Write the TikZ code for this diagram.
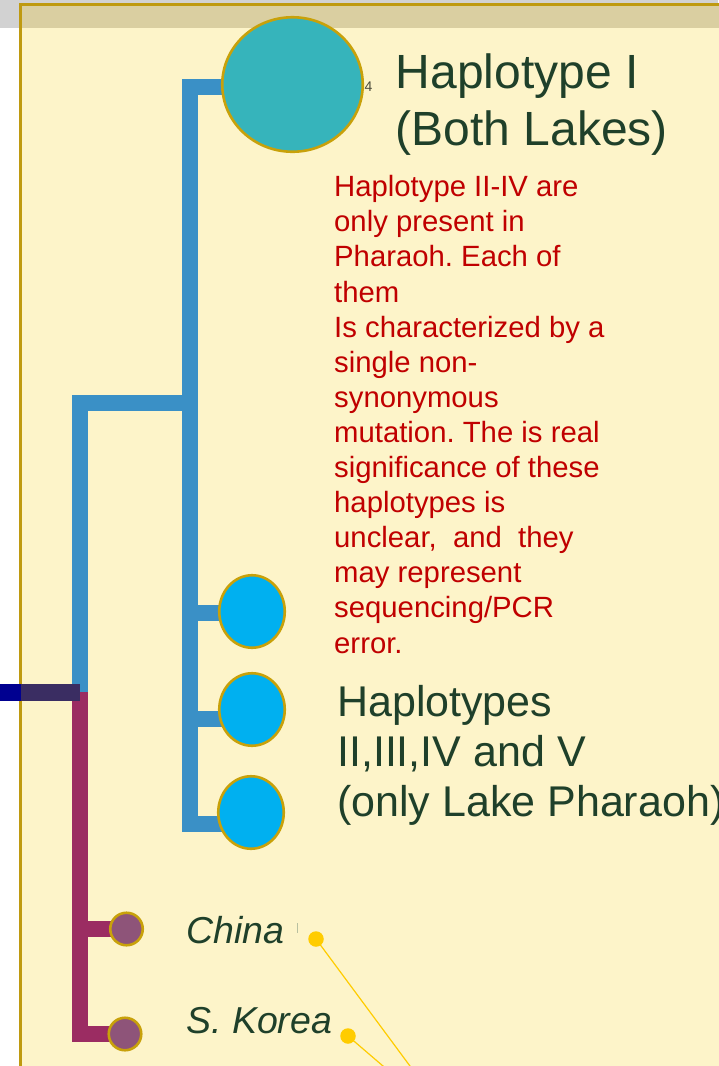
\documentclass[tikz,border=0pt]{standalone}
\usepackage{fontspec}
\setmainfont{Liberation Sans}
\usetikzlibrary{shapes.geometric,backgrounds}
\frenchspacing
\definecolor{gray1}{HTML}{D2D2D2}
\definecolor{cream}{HTML}{FDF4C9}
\definecolor{tan1}{HTML}{DACFA1}
\definecolor{framegold}{HTML}{BF9A10}
\definecolor{circgold}{HTML}{C8A10A}
\definecolor{treeblue}{HTML}{3A90C6}
\definecolor{teal1}{HTML}{36B4BB}
\definecolor{cyan1}{HTML}{00B0F0}
\definecolor{magenta1}{HTML}{9B2C62}
\definecolor{purp1}{HTML}{8E5479}
\definecolor{dkgreen}{HTML}{1F402A}
\definecolor{redtxt}{HTML}{C00000}
\definecolor{dotyellow}{HTML}{FFCC00}
\definecolor{navy1}{HTML}{000090}
\definecolor{rootdark}{HTML}{3A2D62}
\definecolor{fourgray}{HTML}{4A4A3A}
\definecolor{tickgray}{HTML}{B8C0A0}
\begin{document}
\frenchspacing
\begin{tikzpicture}[x=1pt,y=-1pt,
  frameline/.style={draw=framegold,line width=2.7pt},
  clade/.style={line width=16pt,line join=miter,line cap=butt},
  bigleaf/.style={ellipse,inner sep=0pt,draw=circgold,line width=2.6pt,fill=teal1,minimum width=140.5pt,minimum height=134.5pt},
  midleaf/.style={ellipse,inner sep=0pt,draw=circgold,line width=2.6pt,fill=cyan1,minimum width=65.5pt,minimum height=72.5pt},
  smallleaf/.style={circle,inner sep=0pt,draw=circgold,line width=2.6pt,fill=purp1,minimum size=32.5pt},
  ydot/.style={circle,inner sep=0pt,fill=dotyellow,minimum size=15.5pt},
  pointer/.style={draw=dotyellow,line width=1.2pt},
  bigtxt/.style={anchor=base west,inner sep=0pt,text=dkgreen,font=\fontsize{48}{56}\selectfont},
  midtxt/.style={anchor=base west,inner sep=0pt,text=dkgreen,font=\fontsize{43}{50}\selectfont},
  redline/.style={anchor=base west,inner sep=0pt,text=redtxt,font=\fontsize{29.3}{35}\selectfont},
  placetxt/.style={anchor=base west,inner sep=0pt,text=dkgreen,font=\fontsize{37.5}{44}\selectfont\itshape}
]
\useasboundingbox (0,0) rectangle (718,1066);

% leaves
\node[bigleaf] (hapI) at (292.5,84.5) {};
\node[midleaf] (hapII) at (252,611.5) {};
\node[midleaf] (hapIII) at (252,709.5) {};
\node[midleaf] (hapV) at (251,812.5) {};
\node[smallleaf] (china) at (126.5,929) {};
\node[smallleaf] (korea) at (125,1034) {};

\coordinate (j1) at (189.5,403);
\coordinate (root) at (79.5,692);
\coordinate (rootL) at (0,692.5);
\coordinate (rootin) at (20.5,692.5);
\coordinate (rootR) at (80,692.5);

\begin{scope}[on background layer]
  \fill[gray1] (0,0) rectangle (718,27.7);
  \fill[cream] (20.5,4.7) rectangle (740,1090);
  \fill[tan1] (20.5,4.7) rectangle (740,27.7);
  \draw[frameline] (20.5,1090) -- (20.5,4.7) -- (740,4.7);
  % blue clade
  \draw[clade,draw=treeblue] (hapI.center |- 0,87) -- (j1 |- 0,87) -- (j1 |- 0,823.5) -- (hapV.center |- 0,823.5);
  \draw[clade,draw=treeblue] (j1 |- 0,612.5) -- (hapII.center |- 0,612.5);
  \draw[clade,draw=treeblue] (j1 |- 0,719) -- (hapIII.center |- 0,719);
  \draw[clade,draw=treeblue] (j1) -- (root |- j1) -- (root);
  % magenta clade
  \draw[clade,draw=magenta1] (root) -- (root |- 0,1033.5) -- (korea.center |- 0,1033.5);
  \draw[clade,draw=magenta1] (root |- 0,929) -- (china.center);
  % root
  \draw[line width=17pt,draw=navy1] (rootL) -- (rootin);
  \draw[line width=17pt,draw=rootdark] (rootin) -- (rootR);
\end{scope}

% labels
\node[anchor=base west,inner sep=0pt,font=\fontsize{14}{15}\selectfont,text=fourgray] (four) at (364.5,91) {4};
\node[bigtxt] (t1a) at (395.5,88) {Haplotype I};
\node[bigtxt] (t1b) at (395.5,145) {(Both Lakes)};

\foreach \txt [count=\i] in {Haplotype II-IV are,only present in,Pharaoh. Each of,them,Is characterized by a,single non-,synonymous,mutation. The is real,significance of these,haplotypes is,{unclear,\ \ and\ \ they},may represent,sequencing/PCR,error.}
  \node[redline] (r\i) at (334,196.7+35.1*\i-35.1) {\txt};

\node[midtxt] (t2a) at (337,716.7) {Haplotypes};
\node[midtxt] (t2b) at (337,766.7) {II,III,IV and V};
\node[midtxt] (t2c) at (337,816.7) {(only Lake Pharaoh)};

\node[placetxt] (tchina) at (186,943.3) {China};
\node[placetxt] (tkorea) at (186,1033.3) {S. Korea};
\draw[line width=0.8pt,draw=tickgray] (297,923) coordinate (tk1) -- (297,933) coordinate (tk2);

% yellow pointers
\node[ydot] (cdot) at (316,939) {};
\node[ydot] (kdot) at (348,1036) {};
\coordinate (cend) at (418.1,1077);
\coordinate (kend) at (395.8,1077);
\draw[pointer] (cdot.center) -- (cend);
\draw[pointer] (kdot.center) -- (kend);
\end{tikzpicture}
\end{document}
